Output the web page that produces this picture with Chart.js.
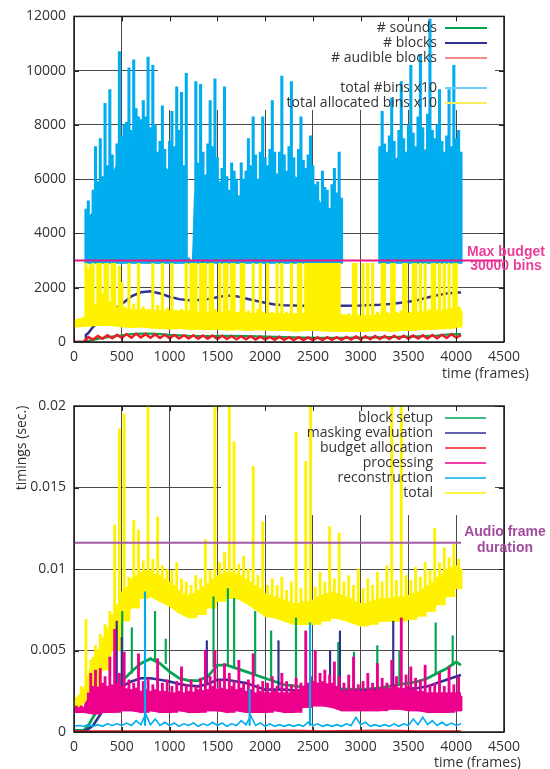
<!DOCTYPE html>
<html>
<head>
<meta charset="utf-8">
<script src="https://cdn.jsdelivr.net/npm/chart.js@4.4.0/dist/chart.umd.min.js"></script>
<style>
  html, body { margin: 0; padding: 0; background: #fff; }
  .panel { position: relative; width: 550px; }
  #top { height: 385px; }
  #bottom { height: 384px; }
</style>
</head>
<body>
<div class="panel" id="top"><canvas id="binsChart"></canvas></div>
<div class="panel" id="bottom"><canvas id="timingChart"></canvas></div>
<script>
// ---------- data ----------
const xTicks = [0, 500, 1000, 1500, 2000, 2500, 3000, 3500, 4000, 4500];
const binsTicks = [0, 2000, 4000, 6000, 8000, 10000, 12000];
const timingTicks = [0, 0.005, 0.01, 0.015, 0.02];

// frames at which the dense bands' edges were read
const bandFrames = [0, 100, 200, 300, 400, 500, 600, 700, 800, 900, 1000, 1100, 1200, 1300, 1400, 1500, 1600, 1700, 1800, 1900, 2000, 2100, 2200, 2300, 2400, 2500, 2600, 2700, 2800, 2900, 3000, 3100, 3200, 3300, 3400, 3500, 3600, 3700, 3800, 3900, 4000, 4050];

// top panel
const soundsFrames = [0, 120, 130, 200, 300, 400, 500, 600, 700, 800, 900, 1000, 1200, 1400, 1600, 1800, 2000, 2200, 2400, 2600, 2800, 3000, 3200, 3400, 3600, 3800, 3900, 4000, 4050];
const sounds = [0, 0, 30, 80, 150, 200, 250, 290, 310, 310, 290, 260, 230, 220, 230, 220, 200, 180, 160, 150, 150, 160, 170, 190, 210, 240, 270, 290, 290];

const blocksFrames = [0, 120, 125, 150, 200, 250, 300, 400, 500, 600, 700, 800, 900, 1000, 1100, 1200, 1300, 1400, 1500, 1600, 1700, 1800, 1900, 2000, 2100, 2200, 2400, 2600, 2800, 3000, 3200, 3300, 3400, 3500, 3600, 3700, 3800, 3900, 4000, 4050];
const blocks = [0, 0, 260, 330, 560, 740, 900, 1150, 1400, 1680, 1830, 1870, 1790, 1670, 1580, 1540, 1550, 1580, 1650, 1710, 1690, 1600, 1520, 1450, 1380, 1350, 1340, 1340, 1340, 1345, 1370, 1400, 1440, 1480, 1550, 1640, 1720, 1790, 1820, 1820];

// every 50 frames from frame 0
const audibleBlocks = [
  0, 0, 0, 180, 90, 220, 120, 250, 140, 270,
  150, 290, 160, 300, 170, 290, 160, 280, 150, 270,
  140, 260, 130, 250, 130, 250, 120, 240, 120, 240,
  110, 230, 110, 220, 100, 210, 100, 210, 90, 200,
  90, 190, 80, 190, 80, 180, 70, 180, 70, 170,
  70, 170, 70, 180, 80, 180, 80, 190, 90, 200,
  90, 210, 100, 220, 110, 220, 110, 230, 120, 230,
  120, 240, 130, 250, 130, 260, 140, 270, 150, 290,
  160, 250
];

// total bins: one reading every 25 frames from frame 125 (null = not plotted), plus top of the solid part
const totalBins = [
  4900, 5200, 4400, 5600, 7200, 5900, 7500, 6100,
  8800, 6500, 9300, 6900, 6300, 7300, 10700, 7600,
  8000, 8100, 10100, 7800, 10400, 8600, 8300, 8200,
  8900, 8300, 10500, 7900, 10200, 8000, 7000, 7400,
  8700, 7100, 6200, 7400, 8500, 7200, 9400, 7800,
  9200, 6500, 9900, 3100, 3000, 3200, 9600, 6600,
  9500, 7000, 6100, 7300, 8900, 7200, 9700, 6800,
  5900, 6400, 9400, 6100, 5600, 6600, 6300, 6000,
  5400, 6600, 6000, 6300, 7500, 6500, 8300, 6900,
  6000, 7000, 8300, 6800, 6500, 7100, 8900, 7000,
  6200, 7000, 9800, 6900, 6300, 7200, 9600, 6800,
  6000, 7100, 8300, 6700, 6400, 6900, 7600, 6500,
  5800, 5900, 4900, 6300, 5700, 5600, 4800, 5800,
  6400, 5500, 7000, 5300, null, null, null, null,
  null, null, null, null, null, null, null, null,
  null, null, null, 7200, 8500, 7300, 7000, 7600,
  9000, 7400, 6600, 7800, 9600, 7500, 7000, 8000,
  10200, 7700, 7200, 8300, 10600, 7900, 6800, 8400,
  11900, 7800, 7500, 8000, 9300, 7400, 7000, 7600,
  9300, 7200, 10200, 7500, 7800, 7000
];
const binsCoreFrames = [125, 200, 300, 400, 500, 600, 700, 800, 900, 1000, 1100, 1150, 1170, 1240, 1260, 1300, 1400, 1500, 1600, 1700, 1800, 1900, 2000, 2100, 2200, 2300, 2400, 2500, 2600, 2700, 2800, 3000, 3200, 3300, 3400, 3500, 3600, 3700, 3800, 3900, 4000, 4050];
const binsCore = [4500, 4800, 5600, 6200, 6900, 7300, 7400, 7300, 6600, 6300, 6600, 5600, 3000, 3000, 5400, 6000, 6200, 6000, 5500, 5300, 5500, 5900, 6100, 6200, 6000, 6100, 6000, 5600, 5000, 4900, 4700, null, 6400, 6700, 6800, 6800, 7000, 7100, 6600, 6400, 6500, 6200];
const binsFloor = 2900;

// allocated bins: one reading every 25 frames from frame 0, band edges at bandFrames
const allocatedBins = [
  780, 720, 820, 760, 850, 2900, 2700, 2850,
  2900, 1400, 2900, 2900, 1800, 2900, 2900, 1500,
  2900, 2900, 1300, 2800, 2200, 1300, 1100, 2900,
  1150, 1400, 1200, 2900, 1100, 1300, 1150, 1200,
  1200, 2900, 1100, 1350, 1150, 2900, 1000, 1250,
  1100, 2900, 1150, 1150, 1050, 1200, 1100, 2900,
  1150, 2900, 2900, 2900, 1000, 2900, 2900, 2900,
  1050, 2900, 2900, 1200, 1000, 2900, 1050, 2900,
  2900, 1150, 2900, 2900, 1050, 1100, 2900, 2900,
  1050, 1150, 1000, 2900, 950, 1200, 2900, 1100,
  1050, 2900, 1000, 1100, 950, 2900, 1000, 2900,
  1000, 1100, 950, 2900, 1000, 1050, 2900, 2900,
  1000, 2900, 2900, 2900, 2900, 2900, 2900, 2900,
  2900, 2900, 2900, 2900, 2900, 2900, 2900, 2900,
  950, 1000, 900, 1050, 850, 2900, 2900, 1000,
  900, 2900, 950, 2900, 850, 2900, 900, 1100,
  1000, 2900, 2900, 1100, 1000, 2900, 2900, 1100,
  1000, 1150, 2900, 2900, 1000, 1100, 2900, 2900,
  1050, 2900, 1000, 2900, 1050, 1200, 2900, 2900,
  1100, 2900, 1100, 2900, 1150, 2900, 1100, 2900,
  2900, 1300, 1150
];
const allocatedLow = [560, 580, 600, 620, 600, 560, 540, 560, 520, 500, 480, 500, 470, 480, 450, 470, 440, 460, 430, 450, 440, 420, 430, 400, 420, 430, 410, 400, 380, 400, 390, 410, 420, 400, 420, 430, 450, 460, 480, 500, 550, 600];
const allocatedCore = [800, 900, 1300, 1350, 1300, 1250, 1200, 1200, 1150, 1150, 1150, 1150, 1130, 1110, 1100, 1100, 1090, 1080, 1070, 1050, 1050, 1050, 1030, 1030, 1050, 1100, 1100, 1100, 1000, 960, 960, 970, 1020, 1050, 1050, 1070, 1100, 1130, 1150, 1200, 1250, 1250];
const maxBudget = 3000;   // 30000 bins, plotted x10

// bottom panel (milliseconds)
const setupFrames = [0, 100, 150, 200, 300, 400, 500, 600, 700, 800, 900, 1000, 1100, 1200, 1300, 1400, 1500, 1600, 1700, 1800, 1900, 2000, 2100, 2200, 2400, 2600, 2800, 3000, 3200, 3400, 3500, 3600, 3700, 3800, 3900, 4000, 4050];
const blockSetup = [0.1, 0.1, 0.4, 0.9, 1.8, 2.7, 3.1, 3.7, 4.2, 4.5, 4.2, 3.7, 3.3, 3.15, 3.15, 3.4, 4.1, 4.1, 3.9, 3.7, 3.5, 3.3, 3.1, 2.9, 2.75, 2.7, 2.65, 2.6, 2.7, 2.9, 3.0, 3.1, 3.3, 3.6, 3.9, 4.3, 4.1];
const setupSpikeFrames = [505, 605, 848, 960, 1460, 1610, 1676, 1896, 2063, 2323, 2766, 2930, 3174, 3405, 3785, 3963];
const setupSpikeBase = [3.1, 3.6, 4.4, 4.2, 4.0, 4.1, 4.0, 3.5, 3.2, 2.7, 2.6, 2.6, 2.7, 2.9, 3.6, 4.1];
const setupSpikeTop = [7.4, 6.4, 7.4, 5.7, 8.3, 8.8, 8.2, 7.4, 6.2, 7.0, 5.5, 4.9, 5.3, 5.0, 6.7, 5.9];

const maskingFrames = [0, 100, 130, 200, 300, 400, 500, 600, 700, 800, 900, 1000, 1100, 1200, 1300, 1400, 1500, 1600, 1700, 1800, 1900, 2000, 2200, 2400, 2600, 2800, 3000, 3200, 3400, 3600, 3700, 3800, 3900, 4000, 4050];
const masking = [0.05, 0.05, 0.1, 0.4, 1.3, 2.2, 2.8, 3.1, 3.3, 3.3, 3.2, 3.1, 2.95, 2.85, 2.8, 2.95, 3.2, 3.2, 3.1, 3.0, 2.8, 2.6, 2.6, 2.5, 2.5, 2.5, 2.55, 2.6, 2.6, 2.7, 2.8, 3.0, 3.2, 3.4, 3.5];
const maskingSpikeFrames = [447, 500, 1390, 2140, 2680, 2783, 3341];
const maskingSpikeBase = [2.5, 2.8, 2.9, 2.6, 2.5, 2.5, 2.6];
const maskingSpikeTop = [6.8, 5.8, 5.6, 5.6, 5.0, 6.2, 6.8];

const allocFrames = [0, 500, 1000, 1500, 2000, 2200, 2400, 2600, 3000, 3200, 3400, 3600, 4050];
const budgetAlloc = [0.04, 0.05, 0.05, 0.05, 0.06, 0.09, 0.08, 0.05, 0.08, 0.09, 0.08, 0.05, 0.05];

// processing: one reading every 25 frames from frame 0, band edges at bandFrames
const processing = [
  1.5, 1.6, 1.5, 1.6, 1.5, 1.8, 2.4, 3.6,
  2.8, 3.8, 2.6, 3.9, 3.0, 3.4, 2.7, 4.6,
  2.9, 6.3, 3.0, 3.6, 2.8, 4.9, 2.6, 3.2,
  2.5, 3.0, 2.7, 4.8, 2.4, 3.1, 2.6, 3.3,
  2.4, 2.9, 2.6, 4.5, 2.3, 3.0, 2.5, 3.2,
  2.4, 2.8, 2.2, 3.1, 2.5, 4.0, 2.3, 2.9,
  2.5, 3.2, 2.3, 2.8, 2.6, 3.3, 2.4, 5.0,
  2.6, 3.4, 2.8, 5.0, 2.5, 3.2, 2.7, 4.2,
  2.6, 3.6, 2.8, 3.1, 2.5, 4.4, 2.7, 3.0,
  2.4, 3.2, 2.6, 4.8, 2.3, 2.9, 2.5, 3.1,
  2.4, 3.0, 2.2, 3.4, 2.5, 2.8, 2.3, 3.6,
  2.4, 3.1, 2.2, 2.9, 2.5, 3.3, 2.3, 3.0,
  2.8, 6.2, 3.0, 3.4, 3.1, 5.0, 2.9, 3.6,
  3.1, 3.8, 2.9, 3.5, 3.0, 4.3, 2.8, 3.4,
  2.5, 3.0, 2.4, 3.5, 2.6, 4.6, 2.3, 2.9,
  2.5, 3.1, 2.4, 3.6, 2.6, 3.0, 2.4, 4.2,
  2.6, 3.3, 2.7, 3.0, 2.5, 4.4, 2.8, 3.4,
  2.7, 7.0, 2.6, 3.5, 2.8, 4.0, 2.6, 3.3,
  2.4, 3.2, 2.5, 4.1, 2.3, 2.9, 2.4, 3.0,
  2.3, 3.6, 2.4, 2.8, 2.2, 4.0, 2.4, 2.9,
  2.3, 3.4, 2.2
];
const processingLow = [1.2, 1.2, 1.1, 1.2, 1.2, 1.3, 1.3, 1.2, 1.3, 1.2, 1.2, 1.3, 1.2, 1.2, 1.3, 1.3, 1.2, 1.3, 1.2, 1.2, 1.2, 1.3, 1.2, 1.2, 1.5, 1.6, 1.6, 1.5, 1.3, 1.3, 1.3, 1.3, 1.3, 1.4, 1.4, 1.3, 1.3, 1.2, 1.2, 1.2, 1.3, 1.3];
const processingCore = [1.45, 1.5, 2.7, 2.8, 2.8, 2.7, 2.6, 2.5, 2.5, 2.5, 2.4, 2.4, 2.4, 2.5, 2.6, 2.6, 2.6, 2.6, 2.5, 2.4, 2.4, 2.4, 2.4, 2.4, 2.8, 3.0, 3.0, 2.9, 2.5, 2.5, 2.5, 2.5, 2.6, 2.6, 2.7, 2.6, 2.5, 2.4, 2.4, 2.4, 2.4, 2.4];

// every 50 frames from frame 0
const reconstruction = [
  0.35, 0.4, 0.35, 0.45, 0.35, 0.45, 0.35, 0.5, 0.4, 0.5,
  0.4, 0.55, 0.4, 0.7, 0.45, 1.1, 0.45, 0.8, 0.4, 0.6,
  0.4, 0.55, 0.35, 0.5, 0.4, 0.55, 0.35, 0.5, 0.4, 0.6,
  0.4, 0.55, 0.35, 0.5, 0.4, 0.7, 0.45, 1.0, 0.4, 0.55,
  0.35, 0.5, 0.35, 0.45, 0.35, 0.45, 0.35, 0.45, 0.35, 0.6,
  0.4, 0.5, 0.35, 0.45, 0.35, 0.45, 0.35, 0.5, 0.4, 0.9,
  0.45, 0.6, 0.35, 0.45, 0.35, 0.45, 0.35, 0.5, 0.35, 0.5,
  0.4, 0.8, 0.45, 0.9, 0.45, 0.7, 0.4, 0.6, 0.4, 0.55,
  0.4, 0.5
];
const reconSpikeFrames = [743, 1838, 2470];
const reconSpikeBase = [0.4, 0.4, 0.4];
const reconSpikeTop = [8.6, 2.6, 6.7];

// total: one reading every 25 frames from frame 0 (above 20 runs off the top), band edges at bandFrames
const totalTime = [
  1.9, 2.1, 2.2, 2.8, 2.6, 6.9, 3.4, 4.4,
  4.6, 5.3, 5.0, 6.0, 5.8, 6.6, 6.4, 7.4,
  7.2, 12.7, 7.8, 18.6, 8.6, 19.5, 8.9, 9.5,
  9.4, 13.0, 9.6, 12.4, 9.8, 10.5, 9.9, 20.5,
  9.9, 10.6, 9.7, 13.2, 9.6, 10.2, 9.4, 10.0,
  9.2, 9.9, 9.0, 10.4, 8.7, 9.4, 8.5, 9.2,
  8.4, 9.0, 8.5, 9.6, 8.7, 9.4, 8.9, 11.8,
  9.1, 9.9, 9.4, 20.5, 9.6, 10.4, 9.7, 11.0,
  9.8, 20.5, 9.8, 17.8, 9.7, 10.3, 9.6, 10.8,
  9.4, 10.0, 9.2, 16.3, 9.0, 9.6, 8.8, 12.9,
  8.5, 9.0, 8.4, 9.4, 8.3, 9.0, 8.2, 9.5,
  8.1, 8.7, 8.0, 9.2, 7.9, 18.4, 7.9, 8.8,
  8.0, 16.6, 8.0, 20.5, 8.1, 8.9, 8.3, 9.8,
  8.4, 9.2, 8.5, 12.6, 8.6, 9.4, 8.5, 12.2,
  8.4, 9.2, 8.3, 9.6, 8.2, 9.0, 8.0, 10.0,
  7.9, 8.8, 7.9, 9.4, 8.0, 9.0, 8.1, 9.8,
  8.2, 9.2, 8.2, 10.2, 8.2, 20.5, 8.3, 9.3,
  8.3, 20.5, 8.3, 9.6, 8.4, 9.3, 8.5, 10.1,
  8.6, 9.5, 8.8, 10.4, 9.0, 9.9, 9.2, 12.5,
  9.5, 10.4, 9.7, 11.3, 10.0, 10.7, 10.1, 11.5,
  10.2, 10.6, 10.0
];
const totalLow = [1.4, 1.8, 2.6, 3.8, 5.0, 6.8, 7.6, 8.2, 8.3, 8.0, 7.7, 7.3, 7.0, 7.2, 7.6, 8.0, 8.2, 8.2, 7.9, 7.5, 7.1, 7.0, 6.8, 6.6, 6.6, 6.6, 6.8, 7.0, 6.9, 6.7, 6.5, 6.6, 6.8, 6.8, 6.8, 6.9, 7.1, 7.4, 7.8, 8.3, 8.8, 8.8];
const totalCore = [1.9, 2.6, 4.4, 5.6, 6.8, 8.2, 9.0, 9.4, 9.4, 9.2, 8.9, 8.5, 8.2, 8.4, 8.8, 9.2, 9.4, 9.3, 9.0, 8.6, 8.2, 8.1, 7.9, 7.7, 7.8, 7.9, 8.1, 8.3, 8.2, 8.0, 7.8, 7.9, 8.1, 8.1, 8.2, 8.3, 8.5, 8.8, 9.2, 9.6, 9.8, 9.8];
const frameDuration = 11.61;   // 1024 samples at 88.2 kHz, ms
const lastFrame = 4050;

// ---------- helpers ----------
const FONT = '"Open Sans", "Noto Sans", sans-serif';
Chart.defaults.font.family = FONT;
Chart.defaults.font.size = 14;
Chart.defaults.color = '#333';

function sampled(start, step, values, scale) {
    scale = scale || 1;
    return values.map((v, i) => ({ x: start + i * step, y: v / scale }));
}
function paired(frames, values, scale) {
    scale = scale || 1;
    return frames.map((f, i) => ({ x: f, y: values[i] === null ? null : values[i] / scale }));
}
function spikes(frames, base, top, scale) {
    return frames.map((f, i) => ({ x: f, y: [base[i] / scale, top[i] / scale] }));
}
// one needle per reading, from the band's lower edge up to the reading
function needles(start, step, tops, lows, scale) {
    scale = scale || 1;
    const out = [];
    tops.forEach((v, i) => {
        if (v === null) return;
        const f = start + i * step;
        const lo = Array.isArray(lows) ? lows[Math.floor(f / 100)] : lows;
        out.push({ x: f, y: [lo / scale, v / scale] });
    });
    return out;
}
function line(label, data, color, width, order) {
    return { type: 'line', label: label, data: data, borderColor: color, backgroundColor: color,
             borderWidth: width, pointRadius: 0, tension: 0, fill: false, order: order };
}
function bars(label, data, color, thickness, order) {
    return { type: 'bar', label: label, data: data, backgroundColor: color, borderWidth: 0,
             barThickness: thickness, grouped: false, order: order };
}
// solid band between two edges; the second dataset fills down to the first
function band(label, lowData, coreData, color, order) {
    const lo = line(label + ' low', lowData, color, 1, order);
    const hi = line(label, coreData, color, 1, order);
    hi.fill = '-1';
    return [lo, hi];
}

// gnuplot-like frame: key box, mirrored ticks, border, key, side note, axis titles
function gnuplotFrame(cfg) {
    return {
        id: 'gnuplotFrame',
        beforeDatasetsDraw(chart) {
            const k = cfg.keyBox, ctx = chart.ctx;
            ctx.save();
            ctx.fillStyle = '#ffffff';
            ctx.fillRect(k.left, k.top, k.right - k.left, k.bottom - k.top);
            ctx.restore();
        },
        afterDraw(chart) {
            const ctx = chart.ctx, a = chart.chartArea, sx = chart.scales.x, sy = chart.scales.y;
            ctx.save();
            ctx.strokeStyle = '#222';
            ctx.lineWidth = 1;
            ctx.beginPath();
            sx.ticks.forEach(t => {
                const px = Math.round(sx.getPixelForValue(t.value)) + 0.5;
                ctx.moveTo(px, a.top); ctx.lineTo(px, a.top + 5);
                ctx.moveTo(px, a.bottom); ctx.lineTo(px, a.bottom - 5);
            });
            sy.ticks.forEach(t => {
                const py = Math.round(sy.getPixelForValue(t.value)) + 0.5;
                ctx.moveTo(a.left, py); ctx.lineTo(a.left + 5, py);
                ctx.moveTo(a.right, py); ctx.lineTo(a.right - 5, py);
            });
            ctx.stroke();
            ctx.lineWidth = 1.5;
            ctx.strokeStyle = '#1a1a1a';
            ctx.strokeRect(a.left, a.top, a.right - a.left, a.bottom - a.top);

            // key
            ctx.font = '14px ' + FONT;
            ctx.textAlign = 'right';
            ctx.textBaseline = 'middle';
            cfg.key.forEach(e => {
                ctx.fillStyle = '#333';
                ctx.fillText(e.label, cfg.keyTextRight, e.y);
                ctx.strokeStyle = e.color;
                ctx.lineWidth = e.width;
                ctx.beginPath();
                ctx.moveTo(cfg.keyLine[0], e.y);
                ctx.lineTo(cfg.keyLine[1], e.y);
                ctx.stroke();
            });

            // note next to the limit line
            ctx.font = 'bold 14px "Liberation Sans", Arial, sans-serif';
            ctx.textAlign = 'center';
            ctx.fillStyle = cfg.note.color;
            cfg.note.lines.forEach((txt, i) => ctx.fillText(txt, cfg.note.x, cfg.note.y + i * cfg.note.gap));

            // axis titles
            ctx.font = '14px ' + FONT;
            ctx.fillStyle = '#333';
            ctx.textAlign = 'left';
            ctx.fillText('time (frames)', cfg.xTitle.x, cfg.xTitle.y);
            if (cfg.yTitle) {
                ctx.translate(cfg.yTitle.x, cfg.yTitle.y);
                ctx.rotate(-Math.PI / 2);
                ctx.textAlign = 'center';
                ctx.fillText(cfg.yTitle.text, 0, 0);
            }
            ctx.restore();
        }
    };
}

function axes(yMax, yTicks, fmt, xHeight) {
    return {
        x: {
            type: 'linear', min: 0, max: 4500, offset: false,
            afterBuildTicks: s => { s.ticks = xTicks.map(v => ({ value: v })); },
            afterFit: s => { s.height = xHeight; },
            grid: { color: '#4a4a4a', lineWidth: 1, drawTicks: false, offset: false },
            border: { display: false },
            ticks: { padding: 7, maxRotation: 0, autoSkip: false, callback: v => String(v) }
        },
        y: {
            type: 'linear', min: 0, max: yMax,
            afterBuildTicks: s => { s.ticks = yTicks.map(v => ({ value: v })); },
            afterFit: s => { s.width = 74; },
            grid: { color: '#4a4a4a', lineWidth: 1, drawTicks: false },
            border: { display: false },
            ticks: { padding: 8, callback: fmt }
        }
    };
}

const baseOptions = {
    responsive: true,
    maintainAspectRatio: false,
    devicePixelRatio: 1,
    animation: false,
    plugins: { legend: { display: false }, tooltip: { enabled: false } }
};

// ---------- top: bins ----------
const binsCoreLine = line('total #bins x10 core', paired(binsCoreFrames, binsCore), '#00adee', 1, 2);
binsCoreLine.fill = { value: binsFloor };

new Chart(document.getElementById('binsChart').getContext('2d'), {
    type: 'line',
    data: {
        datasets: [
            line('Max budget', [{ x: 0, y: maxBudget }, { x: 4480, y: maxBudget }], '#e8168b', 2, 0),
            bars('total allocated bins x10', needles(0, 25, allocatedBins, allocatedLow), '#fff200', 2.5, 1)
        ].concat(
            band('total allocated bins x10', paired(bandFrames, allocatedLow), paired(bandFrames, allocatedCore), '#fff200', 1),
            [
                bars('total #bins x10', needles(125, 25, totalBins, binsFloor), '#00adee', 2.4, 2),
                binsCoreLine,
                line('# audible blocks', sampled(0, 50, audibleBlocks), '#ed1c24', 2.5, 3),
                line('# blocks', paired(blocksFrames, blocks), '#2e3192', 2.5, 4),
                line('# sounds', paired(soundsFrames, sounds), '#00a651', 2.2, 5)
            ])
    },
    options: Object.assign({}, baseOptions, {
        layout: { padding: { top: 16, right: 46, left: 0, bottom: 0 } },
        scales: axes(12000, binsTicks, v => String(v), 43)
    }),
    plugins: [gnuplotFrame({
        keyBox: { left: 158, top: 16, right: 495, bottom: 110 },
        keyTextRight: 437,
        keyLine: [445, 487],
        key: [
            { label: '# sounds', color: '#00a651', width: 2, y: 28 },
            { label: '# blocks', color: '#2e3192', width: 2, y: 43 },
            { label: '# audible blocks', color: '#f4898b', width: 2, y: 58 },
            { label: 'total #bins x10', color: '#6fcff4', width: 2, y: 88 },
            { label: 'total allocated bins x10', color: '#f8ef5a', width: 2, y: 103 }
        ],
        note: { lines: ['Max budget', '30000 bins'], x: 506, y: 252, gap: 14.5, color: '#e8409a' },
        xTitle: { x: 442, y: 374 }
    })]
});

// ---------- bottom: timings ----------
new Chart(document.getElementById('timingChart').getContext('2d'), {
    type: 'line',
    data: {
        datasets: [
            line('Audio frame duration', [{ x: 0, y: frameDuration / 1000 }, { x: lastFrame, y: frameDuration / 1000 }], '#a55aa5', 2, 0),
            line('budget allocation', paired(allocFrames, budgetAlloc, 1000), '#ed1c24', 2, 1),
            line('reconstruction', sampled(0, 50, reconstruction, 1000), '#00aeef', 1.6, 2),
            bars('reconstruction spikes', spikes(reconSpikeFrames, reconSpikeBase, reconSpikeTop, 1000), '#00aeef', 1.5, 2),
            bars('processing', needles(0, 25, processing, processingLow, 1000), '#ec008c', 2.2, 3)
        ].concat(
            band('processing', paired(bandFrames, processingLow, 1000), paired(bandFrames, processingCore, 1000), '#ec008c', 3),
            [
                line('masking evaluation', paired(maskingFrames, masking, 1000), '#2e3192', 2.6, 4),
                bars('masking spikes', spikes(maskingSpikeFrames, maskingSpikeBase, maskingSpikeTop, 1000), '#2e3192', 1.5, 4),
                line('block setup', paired(setupFrames, blockSetup, 1000), '#00a651', 2.8, 5),
                bars('block setup spikes', spikes(setupSpikeFrames, setupSpikeBase, setupSpikeTop, 1000), '#00a651', 1.5, 5),
                bars('total', needles(0, 25, totalTime, totalLow, 1000), '#fff200', 2.2, 6)
            ],
            band('total', paired(bandFrames, totalLow, 1000), paired(bandFrames, totalCore, 1000), '#fff200', 6))
    },
    options: Object.assign({}, baseOptions, {
        layout: { padding: { top: 21, right: 46, left: 0, bottom: 0 } },
        scales: axes(0.02, timingTicks, v => String(+v.toFixed(3)), 37)
    }),
    plugins: [gnuplotFrame({
        keyBox: { left: 221, top: 21, right: 495, bottom: 130 },
        keyTextRight: 433,
        keyLine: [445, 486],
        key: [
            { label: 'block setup', color: '#00a651', width: 1.5, y: 33 },
            { label: 'masking evaluation', color: '#2e3192', width: 1.5, y: 48 },
            { label: 'budget allocation', color: '#ed1c24', width: 1.5, y: 63 },
            { label: 'processing', color: '#ec008c', width: 1.5, y: 78 },
            { label: 'reconstruction', color: '#00aeef', width: 1.5, y: 93 },
            { label: 'total', color: '#fff200', width: 1.5, y: 108 }
        ],
        note: { lines: ['Audio frame', 'duration'], x: 505, y: 147, gap: 16, color: '#a24c9f' },
        xTitle: { x: 434, y: 378 },
        yTitle: { text: 'timings (sec.)', x: 22, y: 63 }
    })]
});
</script>
</body>
</html>
